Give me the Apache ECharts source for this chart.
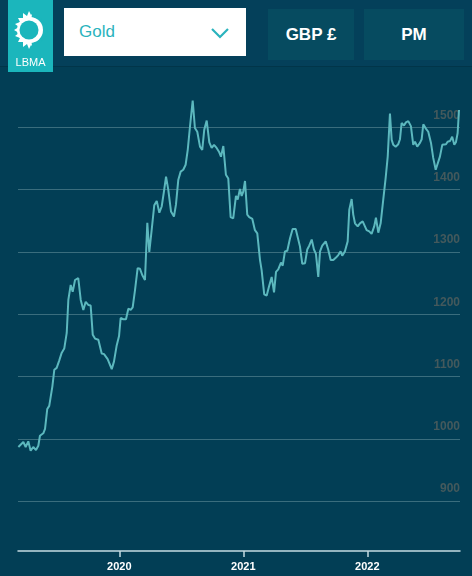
<!DOCTYPE html>
<html lang="en">
<head>
<meta charset="UTF-8">
<title>LBMA Gold GBP PM</title>
<script src="https://cdn.jsdelivr.net/npm/echarts@6.0.0/dist/echarts.min.js"></script>
<style>
    html, body { margin: 0; padding: 0; background: #023e55; }
    body { width: 472px; height: 576px; position: relative; overflow: hidden; font-family: "Liberation Sans", Arial, sans-serif; }
    #header { position: absolute; left: 0; top: 0; width: 472px; height: 66px; background: #04405a; border-bottom: 1px solid #013549; }
    #logo { position: absolute; left: 8px; top: 0; width: 45px; height: 72px; background: #1bb6bc; z-index: 2; }
    #logo span { position: absolute; left: 0; width: 45px; top: 56px; text-align: center; color: #fff; font-size: 11px; }
    #select { position: absolute; left: 64px; top: 8px; width: 182px; height: 48px; background: #fff; }
    #select span { position: absolute; left: 15px; top: 14px; font-size: 17px; color: #2ab3bd; }
    #select svg { position: absolute; left: 146px; top: 18px; }
    .btn { position: absolute; top: 9px; height: 51px; background: #064b60; color: #fff; font-weight: bold; font-size: 17px; line-height: 51px; text-align: center; }
    #chart { position: absolute; left: 0; top: 0; width: 472px; height: 576px; }
</style>
</head>
<body>
<div id="chart"></div>
<div id="header">
    <div id="select">
        <span>Gold</span>
        <svg width="20" height="14"><polyline points="2,3 10,11 18,3" fill="none" stroke="#2ab3bd" stroke-width="2.2"/></svg>
    </div>
    <div class="btn" style="left:268px;width:86px;">GBP £</div>
    <div class="btn" style="left:364px;width:100px;">PM</div>
</div>
<div id="logo">
    <svg width="45" height="50">
        <polygon fill="#fff" points="24,14 23,15 21,11 19,16 15,13 15,18 10,18 12,22 7,24 11,27 6,30 11,33 7,36 12,38 10,42 15,42 15,47 19,44 21,49 23,45 24,46 22,30"/>
        <circle cx="22" cy="30" r="13" fill="#fff"/>
        <path d="M26,17 A13,13 0 0,1 26,43" fill="none" stroke="#1bb6bc" stroke-width="1.2"/>
        <circle cx="21" cy="30" r="9.5" fill="#1bb6bc"/>
    </svg>
    <span>LBMA</span>
</div>
<script>
    // decimal year of each sample
    var datePos = [
        2019.186, 2019.226, 2019.245, 2019.266, 2019.285, 2019.306, 2019.328, 2019.347, 2019.360, 2019.387,
        2019.401, 2019.419, 2019.435, 2019.460, 2019.476, 2019.495, 2019.516, 2019.535, 2019.556, 2019.576,
        2019.589, 2019.608, 2019.624, 2019.643, 2019.669, 2019.689, 2019.710, 2019.729, 2019.750, 2019.769,
        2019.786, 2019.804, 2019.831, 2019.858, 2019.877, 2019.906, 2019.939, 2019.957, 2019.979, 2019.998,
        2020.011, 2020.032, 2020.054, 2020.073, 2020.092, 2020.108, 2020.127, 2020.148, 2020.167, 2020.185,
        2020.207, 2020.226, 2020.242, 2020.261, 2020.282, 2020.302, 2020.323, 2020.342, 2020.360, 2020.377,
        2020.395, 2020.417, 2020.441, 2020.457, 2020.476, 2020.495, 2020.516, 2020.535, 2020.552, 2020.570,
        2020.592, 2020.610, 2020.629, 2020.651, 2020.669, 2020.685, 2020.705, 2020.726, 2020.745, 2020.764,
        2020.785, 2020.804, 2020.820, 2020.839, 2020.860, 2020.879, 2020.898, 2020.919,
        2020.941, 2020.955, 2020.973, 2020.987, 2021.000, 2021.014, 2021.032, 2021.048, 2021.073, 2021.094,
        2021.113, 2021.135, 2021.148, 2021.169, 2021.189, 2021.207, 2021.229, 2021.248, 2021.264, 2021.282,
        2021.304, 2021.318, 2021.336, 2021.355, 2021.377, 2021.398, 2021.423, 2021.439, 2021.457, 2021.476,
        2021.498, 2021.516, 2021.532, 2021.552, 2021.570, 2021.586, 2021.605, 2021.619, 2021.637, 2021.665,
        2021.685, 2021.705, 2021.726, 2021.748, 2021.766, 2021.785, 2021.798, 2021.820,
        2021.842, 2021.855, 2021.874, 2021.887, 2021.901, 2021.923, 2021.941, 2021.963, 2021.976, 2021.995,
        2022.016, 2022.035, 2022.056, 2022.070, 2022.089, 2022.108, 2022.129, 2022.148, 2022.165, 2022.183,
        2022.197, 2022.210, 2022.229, 2022.250, 2022.264, 2022.277, 2022.296, 2022.312, 2022.331, 2022.352,
        2022.371, 2022.385, 2022.403, 2022.425, 2022.439, 2022.452, 2022.473, 2022.492, 2022.514, 2022.532,
        2022.552, 2022.568, 2022.586, 2022.605, 2022.621, 2022.635, 2022.648, 2022.667, 2022.685, 2022.702,
        2022.715, 2022.729, 2022.740
    ];
    // gold price, GBP per troy ounce (PM)
    var price = [
        987, 995, 987, 996, 981, 987, 982, 989, 1005, 1009,
        1016, 1048, 1053, 1084, 1111, 1114, 1126, 1138, 1145, 1170,
        1223, 1247, 1236, 1255, 1258, 1223, 1207, 1220, 1215, 1214,
        1167, 1161, 1159, 1137, 1136, 1128, 1112, 1124, 1150, 1165,
        1194, 1192, 1192, 1209, 1207, 1211, 1239, 1274, 1273, 1263,
        1255, 1347, 1300, 1335, 1375, 1382, 1363, 1373, 1397, 1421,
        1400, 1365, 1357, 1376, 1416, 1429, 1432, 1440, 1464, 1501,
        1543, 1499, 1493, 1469, 1464, 1496, 1511, 1476, 1467, 1472,
        1467, 1461, 1453, 1470, 1424, 1418, 1356, 1354,
        1390, 1384, 1401, 1390, 1397, 1414, 1360, 1356, 1353, 1335,
        1330, 1287, 1271, 1232, 1230, 1244, 1260, 1235, 1268, 1272,
        1283, 1278, 1301, 1302, 1322, 1337, 1337, 1337, 1309, 1281,
        1282, 1304, 1310, 1320, 1304, 1297, 1260, 1301, 1310, 1317,
        1304, 1287, 1287, 1291, 1295, 1301, 1294, 1301,
        1317, 1368, 1385, 1360, 1346, 1341, 1346, 1349, 1351, 1335,
        1333, 1329, 1341, 1355, 1331, 1346, 1384, 1418, 1453, 1522,
        1480, 1472, 1469, 1473, 1481, 1507, 1503, 1508, 1510, 1502,
        1472, 1477, 1469, 1475, 1481, 1505, 1498, 1493, 1475, 1451,
        1432, 1433, 1453, 1472, 1475, 1473, 1477, 1478, 1485, 1472,
        1476, 1491, 1528
    ];
    var yearTicks = [2020, 2021, 2022];

    var chart = echarts.init(document.getElementById('chart'));
    var seriesData = datePos.map(function (t, i) { return [t, price[i]]; });

    chart.setOption({
        backgroundColor: '#023e55',
        animation: false,
        grid: { left: 18, right: 12, top: 90, bottom: 25 },
        xAxis: {
            type: 'value',
            min: 2019.183,
            max: 2022.748,
            splitLine: { show: false },
            axisLine: { lineStyle: { color: '#c5dce2', width: 1.5 } },
            axisTick: { customValues: yearTicks, length: 6, lineStyle: { color: '#c5dce2', width: 1.5 } },
            axisLabel: {
                customValues: yearTicks,
                formatter: function (v) { return String(v); },
                color: '#ffffff', fontWeight: 'bold', fontSize: 11, margin: 10,
                fontFamily: 'Liberation Sans, Arial, sans-serif'
            }
        },
        yAxis: {
            type: 'value',
            position: 'right',
            min: 820,
            max: 1560,
            minInterval: 100,
            maxInterval: 100,
            axisLine: { show: false },
            axisTick: { show: false },
            splitLine: { showMinLine: false, showMaxLine: false, lineStyle: { color: '#3a6d7d', width: 1 } },
            axisLabel: {
                inside: true, margin: 0,
                showMinLabel: false, showMaxLabel: false,
                formatter: function (v) { return String(v); },
                verticalAlign: 'bottom', padding: [0, 0, 6, 0],
                color: '#44595c', fontWeight: 'bold', fontSize: 12,
                fontFamily: 'Liberation Sans, Arial, sans-serif'
            }
        },
        series: [{
            type: 'line',
            data: seriesData,
            showSymbol: false,
            lineStyle: { color: '#5cb8be', width: 2 },
            z: 5
        }]
    });
</script>
</body>
</html>
